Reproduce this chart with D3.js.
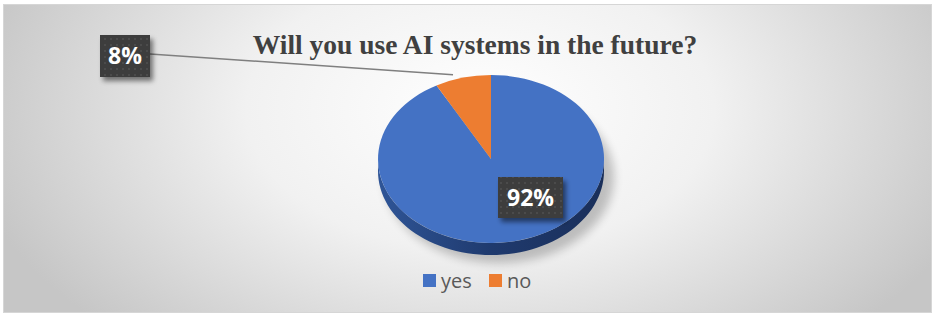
<!DOCTYPE html>
<html><head><meta charset="utf-8">
<script src="https://cdn.jsdelivr.net/npm/d3@7/dist/d3.min.js"></script>
<style>html,body{margin:0;padding:0;background:#fff;}svg{display:block;}</style>
</head><body>
<svg id="c" width="935" height="317"></svg>
<script>
const categories = ["yes", "no"];
const values = [92, 8];
const labels = ["92%", "8%"];
const colors = ["#4472c4", "#ed7d31"];
const title = "Will you use AI systems in the future?";

const svg = d3.select("#c");
const defs = svg.append("defs");
const bg = defs.append("radialGradient").attr("id","bg").attr("gradientUnits","userSpaceOnUse")
  .attr("cx",480).attr("cy",110).attr("r",520).attr("gradientTransform","translate(480,110) scale(1,0.6) translate(-480,-110)");
bg.append("stop").attr("offset","0").attr("stop-color","#ffffff");
bg.append("stop").attr("offset","0.45").attr("stop-color","#f1f1f1");
bg.append("stop").attr("offset","1").attr("stop-color","#c6c6c6");

const side = defs.append("linearGradient").attr("id","side").attr("x1","0").attr("x2","1").attr("y1","0").attr("y2","0");
side.append("stop").attr("offset","0").attr("stop-color","#2f5597");
side.append("stop").attr("offset","0.5").attr("stop-color","#1f3a6e");
side.append("stop").attr("offset","1").attr("stop-color","#1a2f5a");

const pat = defs.append("pattern").attr("id","dots").attr("width",6).attr("height",6).attr("patternUnits","userSpaceOnUse");
pat.append("rect").attr("width",6).attr("height",6).attr("fill","#3d3d3d");
pat.append("rect").attr("x",2).attr("y",2).attr("width",2).attr("height",2).attr("fill","#4c4c4c");

const sh = defs.append("filter").attr("id","shadow").attr("x","-20%").attr("y","-20%").attr("width","150%").attr("height","150%");
sh.append("feGaussianBlur").attr("in","SourceAlpha").attr("stdDeviation",2.5);
sh.append("feOffset").attr("dx",3).attr("dy",4).attr("result","b");
sh.append("feComponentTransfer").append("feFuncA").attr("type","linear").attr("slope",0.5);
const m = sh.append("feMerge"); m.append("feMergeNode"); m.append("feMergeNode").attr("in","SourceGraphic");

const psh = defs.append("filter").attr("id","pshadow").attr("x","-30%").attr("y","-30%").attr("width","160%").attr("height","160%");
psh.append("feGaussianBlur").attr("stdDeviation",5);

svg.append("rect").attr("x",3.5).attr("y",4.5).attr("width",928).attr("height",308)
  .attr("fill","url(#bg)").attr("stroke","#d6d6d6").attr("stroke-width",1);

svg.append("text").attr("x",475).attr("y",54).attr("text-anchor","middle")
  .attr("font-family","'Liberation Serif','Times New Roman',serif").attr("font-weight","bold")
  .attr("font-size",27.5).attr("fill","#404040").text(title);

const cx = 491, cy = 159, rx = 113, ry = 84, depth = 12;
const pie = d3.pie().sort(null).value(d => d)(values);
const pt = (a, dy=0) => [cx + rx*Math.sin(a), cy - ry*Math.cos(a) + dy];

svg.append("ellipse").attr("cx",cx+8).attr("cy",cy+depth+6).attr("rx",rx+2).attr("ry",ry+2)
  .attr("fill","#000").attr("opacity",0.22).attr("filter","url(#pshadow)");

const line = d3.line();
pie.forEach((s,i) => {
  const a0 = Math.max(s.startAngle, Math.PI/2), a1 = Math.min(s.endAngle, 3*Math.PI/2);
  if (a1 <= a0) return;
  const n = 60, top = [], bot = [];
  for (let k=0;k<=n;k++){ const a = a0 + (a1-a0)*k/n; top.push(pt(a)); bot.push(pt(a,depth)); }
  svg.append("path").attr("d", line(top.concat(bot.reverse())) + "Z")
    .attr("fill", i===0 ? "url(#side)" : "#b15e25");
});

const arc = d3.arc().innerRadius(0).outerRadius(1);
const g = svg.append("g").attr("transform",`translate(${cx},${cy}) scale(${rx},${ry})`);
g.selectAll("path").data(pie).join("path").attr("d",arc).attr("fill",(d,i)=>colors[i]);

const noMid = pt((pie[1].startAngle+pie[1].endAngle)/2 - 0.12);
svg.append("line").attr("x1",150).attr("y1",54).attr("x2",noMid[0]+3).attr("y2",noMid[1]-6)
  .attr("stroke","#7f7f7f").attr("stroke-width",1.5);

const lab = [ {x:498,y:177,w:65,h:41}, {x:100,y:35,w:50,h:42} ];
pie.forEach((s,i) => {
  const b = lab[i];
  const gg = svg.append("g").attr("filter","url(#shadow)");
  gg.append("rect").attr("x",b.x).attr("y",b.y).attr("width",b.w).attr("height",b.h).attr("fill","url(#dots)");
  svg.append("text").attr("x",b.x+b.w/2).attr("y",b.y+b.h/2+8).attr("text-anchor","middle")
    .attr("font-family","'Open Sans','Noto Sans',sans-serif").attr("font-weight","bold")
    .attr("font-size",23).attr("fill","#fff").text(labels[i]);
});

const leg = [{x:423},{x:489}];
categories.forEach((c,i) => {
  svg.append("rect").attr("x",leg[i].x).attr("y",274).attr("width",13).attr("height",13).attr("fill",colors[i]);
  svg.append("text").attr("x",leg[i].x+18).attr("y",288)
    .attr("font-family","'Open Sans','Noto Sans',sans-serif").attr("font-size",20).attr("fill","#595959").text(c);
});
</script>
</body></html>
